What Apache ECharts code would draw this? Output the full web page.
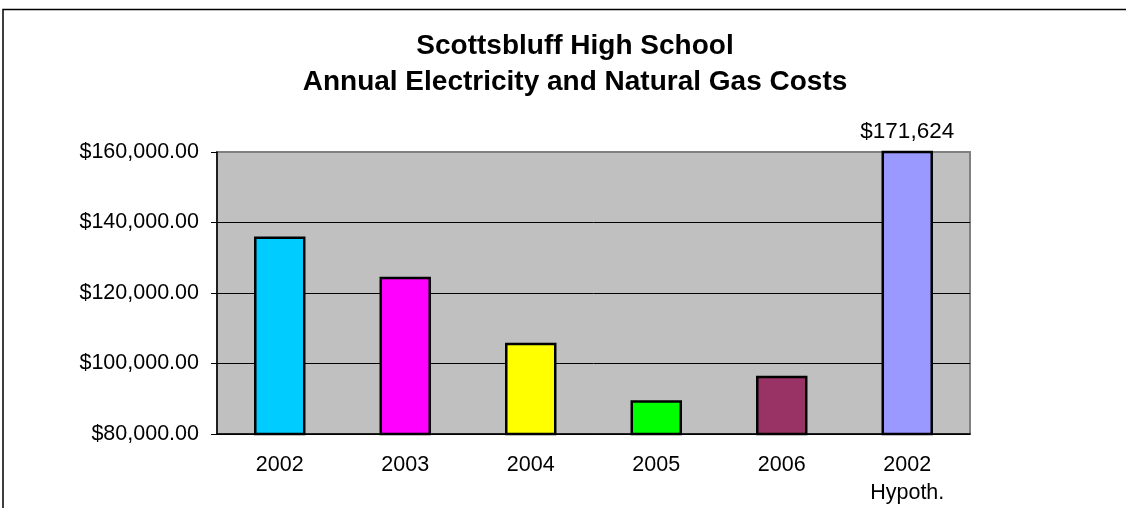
<!DOCTYPE html>
<html>
<head>
<meta charset="utf-8">
<script src="https://cdn.jsdelivr.net/npm/echarts@6/dist/echarts.min.js"></script>
<style>html,body{margin:0;padding:0;background:#fff}#c{width:1126px;height:508px}</style>
</head>
<body>
<div id="c"></div>
<script>
var categories = ['2002', '2003', '2004', '2005', '2006', '2002\nHypoth.'];
var costs = [136000, 124600, 105900, 89600, 96500, 171624];
var barColors = ['#00CCFF', '#FF00FF', '#FFFF00', '#00FF00', '#993366', '#9999FF'];
var yTicks = [80000, 100000, 120000, 140000, 160000];
var labelIndex = 5;

var chart = echarts.init(document.getElementById('c'));
var font = 'Liberation Sans, Arial, sans-serif';
function withCommas(v) {
  return v.toString().replace(/\B(?=(\d{3})+(?!\d))/g, ',');
}
chart.setOption({
  animation: false,
  backgroundColor: '#fff',
  graphic: [{
    type: 'rect', silent: true, z: 100,
    shape: { x: 3, y: 9.5, width: 1200, height: 600 },
    style: { fill: 'none', stroke: '#000', lineWidth: 1.5 }
  }],
  title: {
    text: 'Scottsbluff High School\nAnnual Electricity and Natural Gas Costs',
    left: 570, textAlign: 'center', top: 23,
    textStyle: { fontFamily: font, fontSize: 28, fontWeight: 'bold', color: '#000', lineHeight: 36 }
  },
  grid: {
    left: 217, right: 156, top: 152, bottom: 74,
    show: true, backgroundColor: '#C0C0C0', borderColor: '#808080', borderWidth: 2
  },
  xAxis: {
    type: 'category', data: categories,
    axisLine: { lineStyle: { color: '#000', width: 1.5 } },
    axisTick: { length: 6, lineStyle: { color: '#000' } },
    axisLabel: { fontFamily: font, fontSize: 21.5, color: '#000', margin: 17, lineHeight: 28 }
  },
  yAxis: {
    type: 'value', min: yTicks[0], max: yTicks[yTicks.length - 1], interval: 20000,
    axisLine: { show: true, lineStyle: { color: '#000', width: 1.5 } },
    axisTick: { show: true, length: 6, lineStyle: { color: '#000' } },
    splitLine: { lineStyle: { color: ['#000', '#000', '#000', '#000', '#808080'], width: 1 } },
    axisLabel: { fontFamily: font, fontSize: 21.5, color: '#000', margin: 18,
      formatter: function (v) { return '$' + withCommas(v) + '.00'; } }
  },
  series: [{
    type: 'bar', barWidth: '41%', clip: true,
    data: costs.map(function (v, i) {
      return {
        value: v,
        itemStyle: { color: barColors[i], borderColor: '#000', borderWidth: 2.5 },
        label: {
          show: i === labelIndex, position: 'top', distance: 7,
          fontFamily: font, fontSize: 22.5, color: '#000',
          formatter: function (p) { return '$' + withCommas(p.value); }
        }
      };
    })
  }]
});
</script>
</body>
</html>
